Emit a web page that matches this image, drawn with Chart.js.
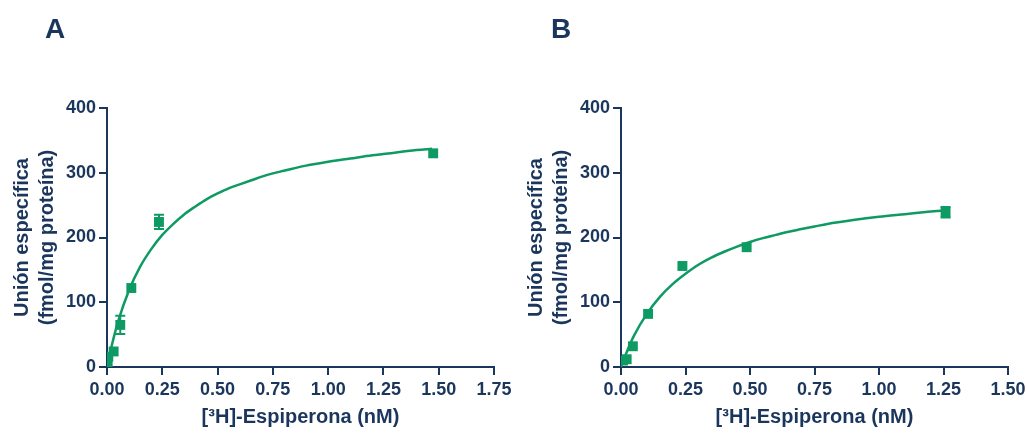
<!DOCTYPE html>
<html>
<head>
<meta charset="utf-8">
<script src="https://cdn.jsdelivr.net/npm/chart.js@4"></script>
<style>
  body { margin: 0; background: #fff; width: 1027px; height: 434px; position: relative; overflow: hidden; font-family: "Liberation Sans", Arial, sans-serif; }
  .panel { position: absolute; top: 0; width: 513px; height: 434px; }
  .label { position: absolute; top: 13px; font-weight: bold; font-size: 28px; color: #1b365d; }
</style>
</head>
<body>
<div class="panel" style="left:0"><canvas id="chartA"></canvas></div>
<div class="panel" style="left:514px"><canvas id="chartB"></canvas></div>
<div class="label" style="left:45px">A</div>
<div class="label" style="left:551px">B</div>
<script>
// Panel A: measured points (mean +/- error)
const pointsAx = [0.003, 0.006, 0.03, 0.06, 0.11, 0.235, 1.475];
const pointsAy = [6, 16, 24, 65, 122, 224, 330];
const pointsAerr = [0, 0, 0, 14, 0, 11, 0];
// Panel A: fitted curve
const curveAx = [0, 0.02, 0.05, 0.1, 0.15, 0.2, 0.25, 0.3, 0.35, 0.4, 0.45, 0.5, 0.55, 0.6, 0.65, 0.7, 0.75, 0.8, 0.9, 1.0, 1.1, 1.2, 1.25, 1.4, 1.47];
const curveAy = [0, 31, 70, 119, 155, 182, 204, 221, 236, 248, 259, 268, 276, 282, 288, 294, 299, 303, 311, 317, 322, 327, 329, 335, 337];

// Panel B
const pointsBx = [0.008, 0.022, 0.046, 0.105, 0.238, 0.487, 1.258];
const pointsBy = [10, 12, 32, 82, 156, 185, 239];
const pointsBerr = [0, 0, 0, 0, 0, 0, 8];
const curveBx = [0, 0.02, 0.05, 0.1, 0.15, 0.2, 0.25, 0.3, 0.35, 0.4, 0.45, 0.5, 0.55, 0.6, 0.65, 0.7, 0.75, 0.8, 0.9, 1.0, 1.1, 1.2, 1.26];
const curveBy = [0, 21, 48, 82, 108, 128, 144, 158, 169, 178, 186, 193, 199, 204, 209, 213, 217, 221, 227, 232, 236, 240, 242];

const yTicks = [0, 100, 200, 300, 400];

const navy = '#1b365d';
const green = '#0e9a63';

// draws vertical error bars with caps from the dataset's err array
const errorBars = {
  id: 'errorBars',
  afterDatasetsDraw(chart) {
    const ds = chart.data.datasets[1];
    const x = chart.scales.x, y = chart.scales.y;
    const ctx = chart.ctx;
    ctx.save();
    ctx.strokeStyle = green;
    ctx.lineWidth = 2;
    ds.data.forEach((p, i) => {
      const e = ds.err[i];
      if (!e) return;
      const px = x.getPixelForValue(p.x);
      const top = y.getPixelForValue(p.y + e);
      const bot = y.getPixelForValue(p.y - e);
      ctx.beginPath();
      ctx.moveTo(px, top); ctx.lineTo(px, bot);
      ctx.moveTo(px - 5, top); ctx.lineTo(px + 5, top);
      ctx.moveTo(px - 5, bot); ctx.lineTo(px + 5, bot);
      ctx.stroke();
    });
    ctx.restore();
  }
};

function makeChart(id, px, py, perr, cx, cy, xMax) {
  const family = '"Liberation Sans", Arial, sans-serif';
  const font = { family: family, weight: 'bold', size: 18 };
  const titleFont = { family: family, weight: 'bold', size: 20, lineHeight: 1.25 };
  return new Chart(document.getElementById(id), {
    type: 'scatter',
    data: {
      datasets: [{
        data: cx.map((v, i) => ({ x: v, y: cy[i] })),
        showLine: true,
        borderColor: green,
        borderWidth: 2.5,
        pointRadius: 0,
        cubicInterpolationMode: 'monotone'
      }, {
        data: px.map((v, i) => ({ x: v, y: py[i] })),
        err: perr,
        pointStyle: 'rect',
        pointRadius: 7,
        backgroundColor: green,
        borderColor: green,
        borderWidth: 0
      }]
    },
    options: {
      responsive: false,
      animation: false,
      layout: { padding: { top: 108, right: 19, left: 0, bottom: 0 } },
      plugins: { legend: { display: false }, tooltip: { enabled: false } },
      scales: {
        x: {
          min: 0, max: xMax,
          afterFit: s => { s.height = 67; s.paddingLeft = 0; s.paddingRight = 0; },
          ticks: { stepSize: 0.25, color: navy, font: font, padding: 4, maxRotation: 0,
                   callback: v => Number(v).toFixed(2) },
          grid: { drawOnChartArea: false, tickLength: 8, color: navy, lineWidth: 2 },
          border: { color: navy, width: 2 },
          title: { display: true, text: '[³H]-Espiperona (nM)', color: navy,
                   font: titleFont, padding: { top: 3 } }
        },
        y: {
          min: 0, max: 400,
          afterFit: s => { s.width = 107; s.paddingTop = 0; s.paddingBottom = 0; },
          afterBuildTicks: s => { s.ticks = yTicks.map(v => ({ value: v })); },
          ticks: { color: navy, font: font, padding: 3 },
          grid: { drawOnChartArea: false, tickLength: 8, color: navy, lineWidth: 2 },
          border: { color: navy, width: 2 },
          title: { display: true, text: ['Unión específica', '(fmol/mg proteína)'], color: navy,
                   font: titleFont, padding: { top: 10 } }
        }
      }
    },
    plugins: [errorBars]
  });
}

document.getElementById('chartA').width = 513;
document.getElementById('chartA').height = 434;
document.getElementById('chartB').width = 513;
document.getElementById('chartB').height = 434;
makeChart('chartA', pointsAx, pointsAy, pointsAerr, curveAx, curveAy, 1.75);
makeChart('chartB', pointsBx, pointsBy, pointsBerr, curveBx, curveBy, 1.5);
</script>
</body>
</html>
